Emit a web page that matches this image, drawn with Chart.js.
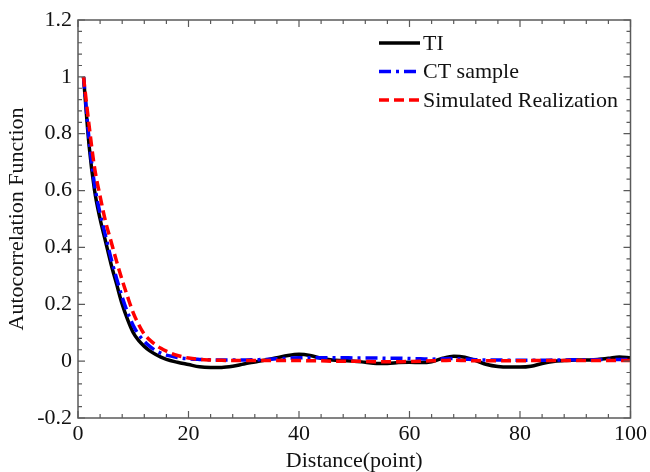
<!DOCTYPE html>
<html>
<head>
<meta charset="utf-8">
<title>Autocorrelation Function</title>
<script src="https://cdn.jsdelivr.net/npm/chart.js"></script>
<style>
    html, body { margin: 0; padding: 0; background: #fff; }
    #wrap { width: 650px; height: 472px; }
</style>
</head>
<body>
<div id="wrap"><canvas id="acfChart" width="650" height="472"></canvas></div>
<script>
// distance (point) at which each value is sampled
const distances = [1,2,3,4,5,6,7,8,9,10,11,12,13,14,15,16,18,20,22,24,26,28,30,32,34,36,38,40,42,44,46,48,50,52,54,56,58,60,62,64,66,68,70,72,74,76,78,80,82,84,86,88,90,92,94,96,98,100];

const tiValues = [1.0,0.76,0.6,0.5,0.42,0.34,0.27,0.2,0.145,0.1,0.072,0.052,0.036,0.024,0.014,0.006,
    -0.004,-0.012,-0.02,-0.022,-0.022,-0.018,-0.01,-0.003,0.004,0.012,0.02,0.024,0.02,0.01,0.004,0.002,0,-0.004,-0.008,-0.008,-0.005,-0.004,-0.005,-0.002,0.01,0.017,0.014,0.002,-0.012,-0.019,-0.021,-0.021,-0.018,-0.008,-0.001,0.002,0.004,0.004,0.006,0.01,0.015,0.012];

const ctValues = [1.0,0.78,0.62,0.52,0.44,0.36,0.29,0.225,0.17,0.125,0.093,0.07,0.052,0.038,0.028,0.021,
    0.013,0.008,0.006,0.005,0.004,0.004,0.004,0.005,0.006,0.008,0.01,0.012,0.012,0.012,0.012,0.012,0.011,0.011,0.011,0.01,0.01,0.009,0.008,0.007,0.008,0.009,0.007,0.005,0.004,0.004,0.003,0.003,0.003,0.003,0.004,0.004,0.005,0.005,0.005,0.006,0.006,0.006];

const simValues = [1.0,0.83,0.68,0.58,0.49,0.42,0.35,0.285,0.225,0.17,0.128,0.095,0.074,0.058,0.045,0.035,
    0.02,0.011,0.006,0.004,0.003,0.002,0.002,0.002,0.002,0.002,0.002,0.002,0.001,0.001,0,0,0,-0.001,-0.002,-0.002,-0.002,-0.001,0,0.001,0.002,0.003,0.002,0.001,0.001,0.001,0.001,0.001,0.002,0.002,0.002,0.002,0.002,0.002,0.002,0.002,0.002,0.002];

const seriesLabels = ['TI', 'CT sample', 'Simulated Realization'];

const xMajorTicks = [0, 20, 40, 60, 80, 100];
const yMajorTicks = [-0.2, 0, 0.2, 0.4, 0.6, 0.8, 1, 1.2];
const xMinorStep = 4;
const yMinorStep = 0.04;

const serif = "'Liberation Serif', 'Times New Roman', serif";

function toPoints(values) {
    return values.map((v, i) => ({ x: distances[i], y: v }));
}

// box frame + inward ticks on all four sides, plus the inset legend
const frameAndLegend = {
    id: 'frameAndLegend',
    afterDraw(chart) {
        const { ctx, chartArea: a, scales: { x, y } } = chart;
        ctx.save();
        ctx.strokeStyle = '#5a5a5a';
        ctx.lineWidth = 1.5;
        ctx.strokeRect(a.left, a.top, a.right - a.left, a.bottom - a.top);

        ctx.lineWidth = 1.2;
        ctx.beginPath();
        // x ticks
        for (let v = 0; v <= 100 + 1e-9; v += xMinorStep) {
            const px = x.getPixelForValue(v);
            const len = xMajorTicks.includes(Math.round(v)) ? 7 : 4;
            ctx.moveTo(px, a.bottom); ctx.lineTo(px, a.bottom - len);
            ctx.moveTo(px, a.top); ctx.lineTo(px, a.top + len);
        }
        // y ticks
        for (let k = 0; k <= 35; k++) {
            const v = -0.2 + k * yMinorStep;
            const py = y.getPixelForValue(v);
            const len = (k % 5 === 0) ? 7 : 4;
            ctx.moveTo(a.left, py); ctx.lineTo(a.left + len, py);
            ctx.moveTo(a.right, py); ctx.lineTo(a.right - len, py);
        }
        ctx.stroke();

        // legend
        const lx = a.left + 301, ly = a.top + 23, rowH = 28.5;
        chart.data.datasets.forEach((ds, i) => {
            const yy = ly + i * rowH;
            ctx.strokeStyle = ds.borderColor;
            ctx.lineWidth = ds.borderWidth;
            ctx.setLineDash(ds.borderDash || []);
            ctx.beginPath();
            ctx.moveTo(lx, yy); ctx.lineTo(lx + 41, yy);
            ctx.stroke();
            ctx.setLineDash([]);
            ctx.fillStyle = '#111';
            ctx.font = '22px ' + serif;
            ctx.textBaseline = 'middle';
            ctx.fillText(ds.label, lx + 44, yy + 1);
        });
        ctx.restore();
    }
};

new Chart(document.getElementById('acfChart'), {
    type: 'line',
    data: {
        datasets: [
            {
                label: seriesLabels[0],
                data: toPoints(tiValues),
                borderColor: '#000000',
                borderWidth: 3.5,
                order: 3
            },
            {
                label: seriesLabels[1],
                data: toPoints(ctValues),
                borderColor: '#0000ff',
                borderWidth: 3.5,
                borderDash: [12, 5, 3, 5],
                order: 2
            },
            {
                label: seriesLabels[2],
                data: toPoints(simValues),
                borderColor: '#ff0000',
                borderWidth: 3.5,
                borderDash: [10, 5],
                order: 1
            }
        ]
    },
    options: {
        responsive: false,
        animation: false,
        layout: { padding: { top: 20, right: 18, left: 0, bottom: 0 } },
        elements: {
            point: { radius: 0 },
            line: { cubicInterpolationMode: 'monotone', fill: false }
        },
        plugins: {
            legend: { display: false },
            tooltip: { enabled: false }
        },
        scales: {
            x: {
                type: 'linear',
                min: 0,
                max: 100,
                afterBuildTicks: s => { s.ticks = xMajorTicks.map(v => ({ value: v })); },
                afterFit: s => { s.height = 54; },
                grid: { display: false, drawTicks: false },
                border: { display: false },
                ticks: { color: '#111', padding: 3, font: { family: serif, size: 22 } },
                title: {
                    display: true,
                    text: 'Distance(point)',
                    color: '#111',
                    padding: { top: 0, bottom: -2 },
                    font: { family: serif, size: 22 }
                }
            },
            y: {
                min: -0.2,
                max: 1.2,
                afterBuildTicks: s => { s.ticks = yMajorTicks.map(v => ({ value: v })); },
                afterFit: s => { s.width = 78; },
                grid: { display: false, drawTicks: false },
                border: { display: false },
                ticks: {
                    color: '#111',
                    padding: 6,
                    font: { family: serif, size: 22 },
                    callback: v => String(Number(v.toFixed(2)))
                },
                title: {
                    display: true,
                    text: 'Autocorrelation Function',
                    color: '#111',
                    padding: { top: 4, bottom: 0 },
                    font: { family: serif, size: 22 }
                }
            }
        }
    },
    plugins: [frameAndLegend]
});
</script>
</body>
</html>
